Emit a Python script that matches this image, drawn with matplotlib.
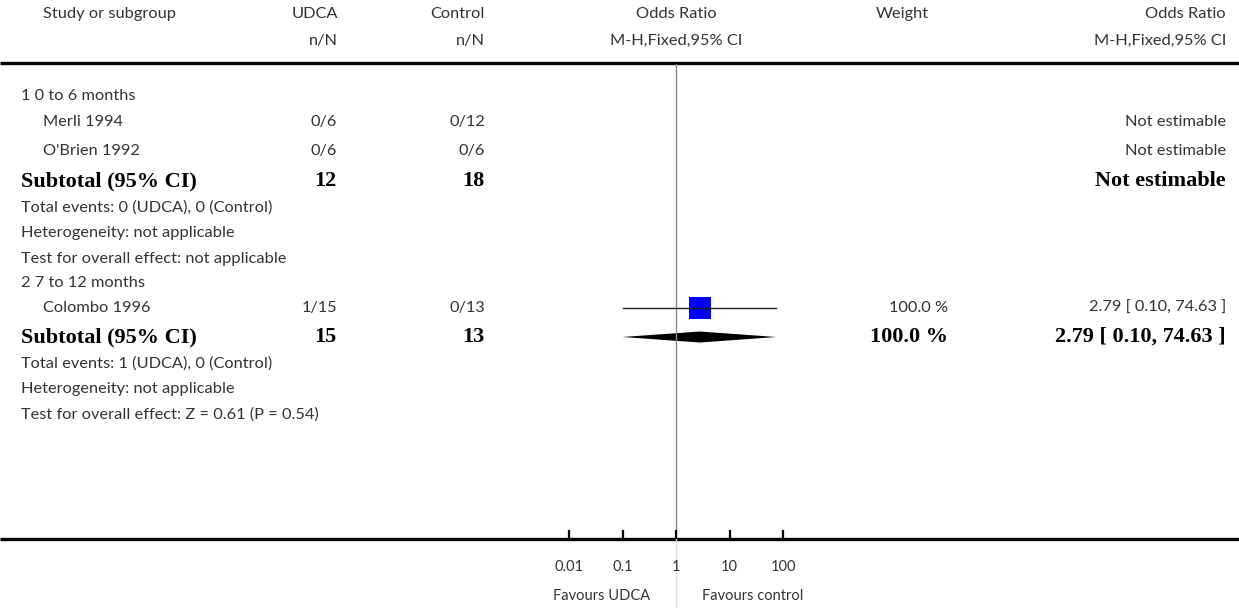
import matplotlib
matplotlib.use("Agg")
import matplotlib.pyplot as plt
import numpy as np

# ---------------- data ----------------
groups = ["1 0 to 6 months", "2 7 to 12 months"]
studies = [["Merli 1994", "O'Brien 1992"], ["Colombo 1996"]]
udca_nN = [["0/6", "0/6"], ["1/15"]]
control_nN = [["0/12", "0/6"], ["0/13"]]
study_or = [[None, None], [2.79]]
study_lo = [[None, None], [0.10]]
study_hi = [[None, None], [74.63]]
study_weight = [["", ""], ["100.0 %"]]
study_ci_text = [["Not estimable", "Not estimable"], ["2.79 [ 0.10, 74.63 ]"]]

sub_udca_total = ["12", "15"]
sub_control_total = ["18", "13"]
sub_or = [None, 2.79]
sub_lo = [None, 0.10]
sub_hi = [None, 74.63]
sub_weight = ["", "100.0 %"]
sub_ci_text = ["Not estimable", "2.79 [ 0.10, 74.63 ]"]
sub_events = ["Total events: 0 (UDCA), 0 (Control)", "Total events: 1 (UDCA), 0 (Control)"]
sub_het = ["Heterogeneity: not applicable", "Heterogeneity: not applicable"]
sub_test = ["Test for overall effect: not applicable",
            "Test for overall effect: Z = 0.61 (P = 0.54)"]

tick_values = [0.01, 0.1, 1, 10, 100]
tick_labels = ["0.01", "0.1", "1", "10", "100"]
favours_left = "Favours UDCA"
favours_right = "Favours control"

# ---------------- layout ----------------
W, H = 1239, 608
fig = plt.figure(figsize=(W / 100, H / 100), dpi=100)
ax = fig.add_axes([0, 0, 1, 1])
ax.set_xlim(0, W)
ax.set_ylim(H, 0)
ax.axis("off")

# forest axes: log scale mapped so that 1 -> x=676, 53.5 px per decade
x_one, px_dec = 676.0, 53.5
fax = fig.add_axes([0, 0, 1, 1], facecolor="none")
fax.set_xscale("log")
fax.set_xlim(10 ** ((0 - x_one) / px_dec), 10 ** ((W - x_one) / px_dec))
fax.set_ylim(H, 0)
fax.axis("off")

SANS = ["Lato", "DejaVu Sans"]
SERIF = ["Liberation Serif", "DejaVu Serif"]
TC = "#333333"
FS = 11.8
BFS = 16
SFS = 10.5

x_name, x_indent = 21, 43
x_udca, x_ctrl = 337, 485
x_weight, x_ci = 948, 1226


def txt(x, y, s, ha="left", bold=False):
    if bold:
        ax.text(x, y, s, ha=ha, va="center", fontsize=BFS, fontweight="bold",
                family=SERIF, color="black")
    else:
        ax.text(x, y, s, ha=ha, va="center", fontsize=FS, family=SANS, color=TC)


# header
txt(43, 14, "Study or subgroup")
txt(338, 14, "UDCA", ha="right")
txt(338, 41, "n/N", ha="right")
txt(485, 14, "Control", ha="right")
txt(485, 41, "n/N", ha="right")
txt(676, 14, "Odds Ratio", ha="center")
txt(676, 41, "M-H,Fixed,95% CI", ha="center")
txt(902, 14, "Weight", ha="center")
txt(x_ci, 14, "Odds Ratio", ha="right")
txt(x_ci, 41, "M-H,Fixed,95% CI", ha="right")
ax.plot([0, W], [63, 63], color="black", lw=2.4, solid_capstyle="butt")

# vertical no-effect line
fax.plot([1, 1], [64, 538], color="#8a8a8a", lw=1.0)
fax.plot([1, 1], [538, H], color="#d8d8d8", lw=1.0)

group_y = [96, 283]
study_y = [[122, 151], [308]]
sub_y = [181, 337]
step = 25.5

for g in range(len(groups)):
    txt(x_name, group_y[g], groups[g])
    for i, name in enumerate(studies[g]):
        y = study_y[g][i]
        txt(x_indent, y, name)
        txt(x_udca, y, udca_nN[g][i], ha="right")
        txt(x_ctrl, y, control_nN[g][i], ha="right")
        if study_weight[g][i]:
            txt(x_weight, y, study_weight[g][i], ha="right")
        txt(x_ci, y, study_ci_text[g][i], ha="right")
        if study_or[g][i] is not None:
            fax.plot([study_lo[g][i], study_hi[g][i]], [y, y], color="#222222", lw=1.0)
            est = study_or[g][i]
            half = 11  # px
            fax.fill([est * 10 ** (-half / px_dec), est * 10 ** (half / px_dec),
                      est * 10 ** (half / px_dec), est * 10 ** (-half / px_dec)],
                     [y - half, y - half, y + half, y + half], color="#0000ff", lw=0)
    ys = sub_y[g]
    txt(x_name, ys, "Subtotal (95% CI)", bold=True)
    txt(x_udca, ys, sub_udca_total[g], ha="right", bold=True)
    txt(x_ctrl, ys, sub_control_total[g], ha="right", bold=True)
    if sub_weight[g]:
        txt(x_weight, ys, sub_weight[g], ha="right", bold=True)
    txt(x_ci, ys, sub_ci_text[g], ha="right", bold=True)
    if sub_or[g] is not None:
        fax.fill([sub_lo[g], sub_or[g], sub_hi[g], sub_or[g]],
                 [ys, ys - 5.5, ys, ys + 5.5], color="black", lw=0)
    txt(x_name, ys + 27, sub_events[g])
    txt(x_name, ys + 27 + step, sub_het[g])
    txt(x_name, ys + 27 + 2 * step, sub_test[g])

# bottom axis
ax.plot([0, W], [538.5, 538.5], color="black", lw=2.4, solid_capstyle="butt")
for v, lab in zip(tick_values, tick_labels):
    fax.plot([v, v], [531, 538], color="black", lw=1.6)
    fax.text(v, 567, lab, ha="center", va="center", fontsize=SFS, family=SANS, color=TC)
fax.text(10 ** (-26 / px_dec), 596, favours_left, ha="right", va="center",
         fontsize=SFS, family=SANS, color=TC)
fax.text(10 ** (26 / px_dec), 596, favours_right, ha="left", va="center",
         fontsize=SFS, family=SANS, color=TC)

fig.savefig("out.png", dpi=100)
